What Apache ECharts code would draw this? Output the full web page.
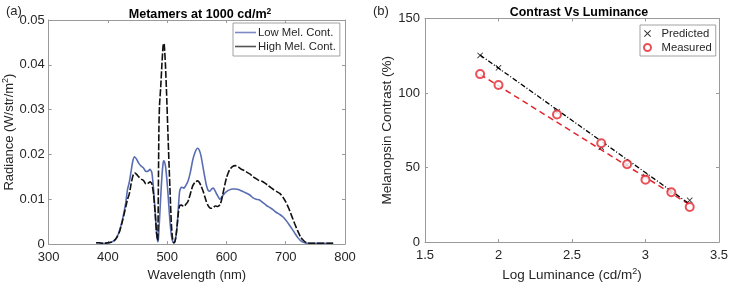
<!DOCTYPE html>
<html>
<head>
<meta charset="utf-8">
<script src="https://cdn.jsdelivr.net/npm/echarts@6/dist/echarts.min.js"></script>
<style>
  html, body { margin: 0; padding: 0; background: #fff; }
  #chart { width: 731px; height: 287px; }
</style>
</head>
<body>
<div id="chart"></div>
<script>
// (a) spectra
const wavelength = [380, 385, 390, 395, 400, 405, 410, 415, 420, 425, 430, 433, 436, 439, 442, 445, 448, 452, 456, 460,
  464, 468, 471, 474, 477, 480, 482, 484, 485, 486, 487, 489, 491, 493, 494, 495, 497, 499, 501, 503,
  505, 507, 509, 511, 513, 515, 517, 519, 521, 524, 528, 531, 535, 539, 543, 547, 551, 554, 557, 560,
  563, 566, 569, 572, 575, 578, 581, 585, 589, 592, 596, 600, 605, 610, 615, 620, 625, 630, 635, 640,
  645, 650, 655, 660, 665, 670, 675, 680, 685, 690, 695, 700, 705, 710, 715, 720, 725, 730, 735, 740,
  750, 760, 770, 780]
const lowMel = [0.0003, 0.0003, 0.0002, 0.0002, 0.0003, 0.0004, 0.0007, 0.0015, 0.0032, 0.0058, 0.0092, 0.0122, 0.0138, 0.0162, 0.0186, 0.0195, 0.0190, 0.0180, 0.0174, 0.0170,
  0.0162, 0.0163, 0.0167, 0.0160, 0.0122, 0.0065, 0.0025, 0.0005, 0.0010, 0.0030, 0.0055, 0.0105, 0.0150, 0.0180, 0.0186, 0.0185, 0.0175, 0.0150, 0.0118, 0.0080,
  0.0045, 0.0020, 0.0007, 0.0003, 0.0006, 0.0020, 0.0045, 0.0085, 0.0118, 0.0127, 0.0125, 0.0130, 0.0140, 0.0160, 0.0187, 0.0205, 0.0214, 0.0210, 0.0197, 0.0175,
  0.0152, 0.0132, 0.0120, 0.0118, 0.0123, 0.0125, 0.0118, 0.0108, 0.0100, 0.0105, 0.0112, 0.0117, 0.0121, 0.0123, 0.0123, 0.0122, 0.0119, 0.0116, 0.0113, 0.0109,
  0.0103, 0.0100, 0.0099, 0.0094, 0.0089, 0.0084, 0.0080, 0.0075, 0.0070, 0.0066, 0.0061, 0.0054, 0.0045, 0.0035, 0.0025, 0.0015, 0.0008, 0.0004, 0.0002, 0.0002,
  0.0002, 0.0002, 0.0002, 0.0002]
const highMel = [0.0003, 0.0003, 0.0002, 0.0002, 0.0003, 0.0004, 0.0007, 0.0015, 0.0030, 0.0054, 0.0083, 0.0100, 0.0112, 0.0134, 0.0152, 0.0159, 0.0156, 0.0150, 0.0145, 0.0142,
  0.0134, 0.0136, 0.0139, 0.0135, 0.0110, 0.0063, 0.0025, 0.0008, 0.0120, 0.0260, 0.0310, 0.0350, 0.0400, 0.0442, 0.0448, 0.0445, 0.0400, 0.0333, 0.0255, 0.0180,
  0.0110, 0.0045, 0.0012, 0.0003, 0.0006, 0.0020, 0.0045, 0.0072, 0.0086, 0.0087, 0.0084, 0.0088, 0.0095, 0.0112, 0.0130, 0.0138, 0.0141, 0.0138, 0.0130, 0.0120,
  0.0108, 0.0095, 0.0086, 0.0081, 0.0080, 0.0082, 0.0085, 0.0084, 0.0088, 0.0100, 0.0125, 0.0148, 0.0165, 0.0173, 0.0175, 0.0172, 0.0167, 0.0164, 0.0160, 0.0156,
  0.0150, 0.0146, 0.0142, 0.0140, 0.0136, 0.0131, 0.0126, 0.0121, 0.0117, 0.0113, 0.0105, 0.0094, 0.0080, 0.0063, 0.0046, 0.0030, 0.0016, 0.0008, 0.0003, 0.0002,
  0.0002, 0.0002, 0.0002, 0.0002]

// (b) contrast vs luminance
const logLum = [1.875, 2, 2.398, 2.699, 2.875, 3, 3.176, 3.301]
const predicted = [125.2, 116.9, 87.4, 63.6, 52, 44, 33.5, 28]
const measured = [112.7, 105.4, 85.6, 66.3, 52.2, 41.9, 33.5, 23.6]
const fitX = [1.875, 3.301]
const predictedFit = [125.5, 25.5]
const measuredFit = [112.5, 25]

const zip = (xs, ys) => xs.map((x, i) => [x, ys[i]])

const AXIS_COLOR = '#9a9a9a'
const TEXT_COLOR = '#262626'
const FONT = 'Liberation Sans, Arial, sans-serif'
const SUP = { fontSize: 9, padding: [0, 0, 7, 0], fontFamily: FONT, color: TEXT_COLOR }

function mainAxis(pos, gridIndex, extra) {
  return Object.assign({
    type: 'value',
    gridIndex,
    position: pos,
    axisLine: { show: true, onZero: false, lineStyle: { color: AXIS_COLOR, width: 1 } },
    axisTick: { show: true, inside: true, length: 3, lineStyle: { color: AXIS_COLOR } },
    axisLabel: { color: TEXT_COLOR, fontSize: 13, fontFamily: FONT },
    splitLine: { show: false },
    nameLocation: 'middle',
    nameTextStyle: { color: TEXT_COLOR, fontSize: 13, fontFamily: FONT }
  }, extra)
}

function mirrorAxis(pos, gridIndex, min, max, interval) {
  return {
    type: 'value', gridIndex, position: pos, min, max, interval,
    axisLine: { show: true, onZero: false, lineStyle: { color: AXIS_COLOR, width: 1 } },
    axisTick: { show: true, inside: true, length: 3, lineStyle: { color: AXIS_COLOR } },
    axisLabel: { show: false },
    splitLine: { show: false }
  }
}

const chart = echarts.init(document.getElementById('chart'), null, { renderer: 'canvas' })

chart.setOption({
  animation: false,
  backgroundColor: '#fff',
  textStyle: { fontFamily: FONT },
  title: [
    {
      text: 'Metamers at 1000 cd/m{sup|2}',
      left: 195, top: 2, textAlign: 'center',
      textStyle: { fontSize: 12.6, fontWeight: 'bold', color: '#000', fontFamily: FONT, rich: { sup: Object.assign({}, SUP, { fontWeight: 'bold', fontSize: 8.5, color: '#000' }) } }
    },
    {
      text: 'Contrast Vs Luminance',
      left: 574, top: 2, textAlign: 'center',
      textStyle: { fontSize: 12.4, fontWeight: 'bold', color: '#000', fontFamily: FONT }
    },
    { text: '(a)', left: 1, top: 0, textStyle: { fontSize: 13, fontWeight: 'normal', color: TEXT_COLOR, fontFamily: FONT } },
    { text: '(b)', left: 368, top: 0, textStyle: { fontSize: 13, fontWeight: 'normal', color: TEXT_COLOR, fontFamily: FONT } }
  ],
  grid: [
    { left: 46, top: 20, width: 299, height: 230 },
    { left: 425, top: 18.5, width: 298, height: 227 }
  ],
  xAxis: [
    mainAxis('bottom', 0, { min: 300, max: 800, interval: 100, name: 'Wavelength (nm)', nameGap: 20, axisLabel: { color: TEXT_COLOR, fontSize: 13, fontFamily: FONT, margin: 7 } }),
    mirrorAxis('top', 0, 300, 800, 100),
    mainAxis('bottom', 1, {
      min: 1.5, max: 3.5, interval: 0.5, name: 'Log Luminance (cd/m{sup|2})', nameGap: 20,
      axisLabel: { color: TEXT_COLOR, fontSize: 13, fontFamily: FONT, margin: 7 },
      nameTextStyle: { color: TEXT_COLOR, fontSize: 13.5, fontFamily: FONT, rich: { sup: SUP } }
    }),
    mirrorAxis('top', 1, 1.5, 3.5, 0.5)
  ],
  yAxis: [
    mainAxis('left', 0, {
      min: 0, max: 0.05, interval: 0.01, name: 'Radiance (W/str/m{sup|2})', nameGap: 30,
      axisLabel: { color: TEXT_COLOR, fontSize: 13, fontFamily: FONT, margin: 4 },
      nameTextStyle: { color: TEXT_COLOR, fontSize: 13, fontFamily: FONT, rich: { sup: SUP } }
    }),
    mirrorAxis('right', 0, 0, 0.05, 0.01),
    mainAxis('left', 1, {
      min: 0, max: 150, interval: 50, name: 'Melanopsin Contrast (%)', nameGap: 25,
      axisLabel: { color: TEXT_COLOR, fontSize: 13, fontFamily: FONT, margin: 5 },
      nameTextStyle: { color: TEXT_COLOR, fontSize: 13.5, fontFamily: FONT }
    }),
    mirrorAxis('right', 1, 0, 150, 50)
  ],
  legend: [
    {
      data: ['Low Mel. Cont.', 'High Mel. Cont.'],
      orient: 'vertical', left: 233, top: 23,
      icon: 'rect', itemWidth: 21, itemHeight: 1.6, itemGap: 3,
      padding: [4, 4, 4, 2],
      borderColor: '#8a8a8a', borderWidth: 0.8, backgroundColor: '#fff',
      textStyle: { fontSize: 11.3, color: TEXT_COLOR, fontFamily: FONT, padding: [0, 0, 0, -3] }
    },
    {
      data: ['Predicted', 'Measured'],
      orient: 'vertical', left: 640, top: 25,
      itemWidth: 18, itemHeight: 7, itemGap: 3,
      padding: [3, 4, 3, 3],
      borderColor: '#8a8a8a', borderWidth: 0.8, backgroundColor: '#fff',
      textStyle: { fontSize: 11.3, color: TEXT_COLOR, fontFamily: FONT }
    }
  ],
  series: [
    {
      name: 'Low Mel. Cont.', type: 'line', xAxisIndex: 0, yAxisIndex: 0,
      data: zip(wavelength, lowMel), symbol: 'none', smooth: 0.2,
      lineStyle: { color: '#5a6db3', width: 1.6 }, itemStyle: { color: '#7d88c4' }, z: 2
    },
    {
      name: 'High Mel. Cont.', type: 'line', xAxisIndex: 0, yAxisIndex: 0,
      data: zip(wavelength, highMel), symbol: 'none', smooth: 0.2,
      lineStyle: { color: '#111', width: 1.6, type: [7, 2] }, itemStyle: { color: '#555' }, z: 3
    },
    {
      name: 'Predicted fit', type: 'line', xAxisIndex: 2, yAxisIndex: 2,
      data: zip(fitX, predictedFit), symbol: 'none',
      lineStyle: { color: '#000', width: 1.3, type: [5, 2, 1, 2] }, z: 3
    },
    {
      name: 'Measured fit', type: 'line', xAxisIndex: 2, yAxisIndex: 2,
      data: zip(fitX, measuredFit), symbol: 'none',
      lineStyle: { color: '#e3262e', width: 1.5, type: [6, 4] }, z: 2
    },
    {
      name: 'Predicted', type: 'scatter', xAxisIndex: 2, yAxisIndex: 2,
      data: zip(logLum, predicted),
      symbol: 'path://M0,1L1,0L5,4L9,0L10,1L6,5L10,9L9,10L5,6L1,10L0,9L4,5Z', symbolSize: 6,
      itemStyle: { color: '#000' }, z: 4
    },
    {
      name: 'Measured', type: 'scatter', xAxisIndex: 2, yAxisIndex: 2,
      data: zip(logLum, measured),
      symbol: 'emptyCircle', symbolSize: 8,
      itemStyle: { color: '#e3262e', borderColor: '#e3262e', borderWidth: 1.5 }, z: 5
    }
  ]
})
</script>
</body>
</html>
